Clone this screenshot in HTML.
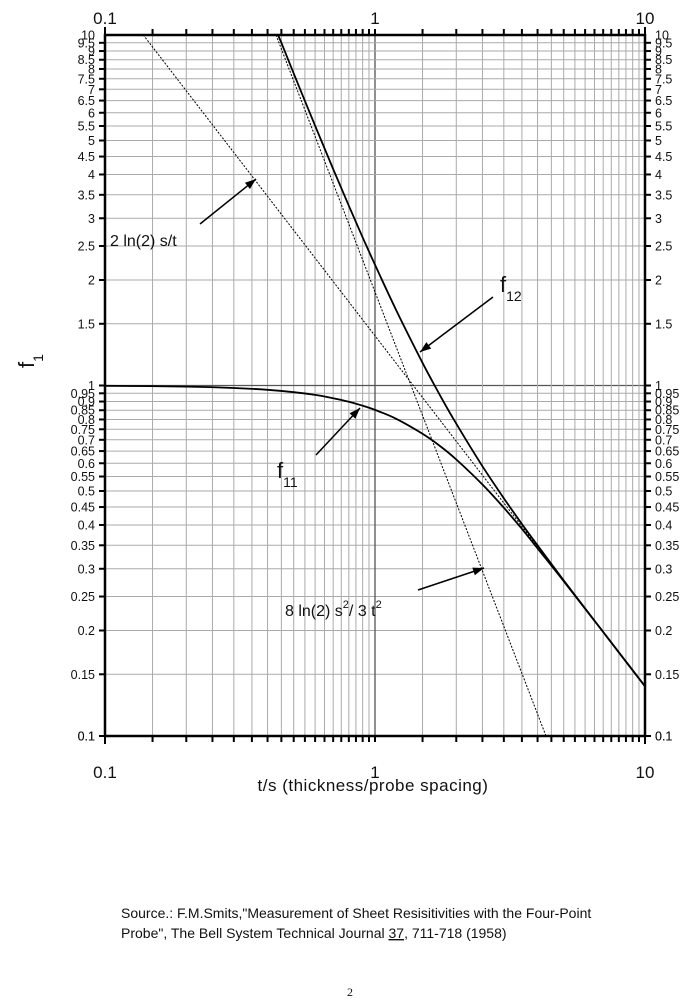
<!DOCTYPE html>
<html><head><meta charset="utf-8"><style>
html,body{margin:0;padding:0;background:#fff}
svg{display:block}
text{font-family:"Liberation Sans",Arial,sans-serif;fill:#111}
</style></head><body>
<svg id="chart" width="700" height="1008" viewBox="0 0 700 1008" xmlns="http://www.w3.org/2000/svg">
<g id="grid"></g>
<g id="curves"></g>
<g id="axes"></g>
<g id="ann">
  <text x="110" y="246" font-size="16">2 ln(2) s/t</text>
  <text x="500" y="292" font-size="22">f<tspan font-size="14" dy="9">12</tspan></text>
  <text x="277" y="478" font-size="22">f<tspan font-size="14" dy="9">11</tspan></text>
  <text x="285" y="616" font-size="16">8 ln(2) s<tspan font-size="11" dy="-8">2</tspan><tspan dy="8">/ 3 t</tspan><tspan font-size="11" dy="-8">2</tspan></text>
  <text transform="translate(34,368) rotate(-90)" font-size="22">f<tspan font-size="14" dy="9">1</tspan></text>
  <text x="373" y="791" font-size="17" text-anchor="middle" letter-spacing="0.5">t/s  (thickness/probe spacing)</text>
  <text x="121" y="918" font-size="14">Source.:   F.M.Smits,"Measurement of Sheet Resisitivities with the Four-Point</text>
  <text x="121" y="938" font-size="14">Probe", The Bell System Technical Journal <tspan text-decoration="underline">37</tspan>, 711-718 (1958)</text>
  <text x="350" y="996" font-size="12" text-anchor="middle" style="font-family:'Liberation Serif',serif">2</text>
</g>
</svg>
<script>
const xTickLabels = ["0.1","1","10"];
const xTickValues = [0.1,1,10];
const tF = [0.1,0.2,0.3,0.4,0.5,0.6,0.7,0.8,0.9,1,1.2,1.5,1.75,2,2.5,3,3.5,4,5,7,10];
const f11Values = [0.998,0.993,0.984,0.972,0.957,0.940,0.920,0.899,0.876,0.852,0.803,0.728,0.670,0.615,0.522,0.448,0.390,0.343,0.2765,0.198,0.1386];
const tF12 = [0.437,0.45,0.5,0.6,0.7,0.8,0.9,1,1.2,1.5,1.75,2,2.5,3,3.5,4,5,7,10];
const f12Values = [10,9.5,7.77,5.51,4.145,3.259,2.648,2.21,1.636,1.161,0.931,0.778,0.5885,0.4768,0.4027,0.3497,0.278,0.198,0.1386];
const tLin = [0.1386,4];
const linValues = [10,0.3466];
const tQuad = [0.43,1,2,4.3];
const quadValues = [10,1.848,0.462,0.1];

const NS="http://www.w3.org/2000/svg";
const L=105,R=645,T=35,B=736;
const X=t=>L+(R-L)/2*(Math.log10(t)+1);
const Y=v=>T+(B-T)/2*(1-Math.log10(v));
function el(tag,attrs,parent){const e=document.createElementNS(NS,tag);for(const k in attrs)e.setAttribute(k,attrs[k]);parent.appendChild(e);return e;}
const grid=document.getElementById('grid'),axes=document.getElementById('axes'),curves=document.getElementById('curves');
const minor=[];
for(let i=2;i<20;i++)minor.push(+(i*0.05).toFixed(2));
for(let i=2;i<20;i++)minor.push(+(i*0.5).toFixed(1));
minor.forEach(v=>{
  const strong=(v===1);
  const gx=el('line',{x1:X(v),x2:X(v),y1:T,y2:B,stroke:strong?'#555':'#aaa','stroke-width':strong?1.3:1},grid);
  
  
  const gy=el('line',{x1:L,x2:R,y1:Y(v),y2:Y(v),stroke:strong?'#555':'#aaa','stroke-width':strong?1.3:1},grid);
  
  
  [[X(v),B,X(v),B+6],[X(v),T,X(v),T-6],[L-6,Y(v),L,Y(v)],[R,Y(v),R+6,Y(v)]].forEach(c=>{
    const tk=el('line',{x1:c[0],y1:c[1],x2:c[2],y2:c[3],stroke:'#000','stroke-width':2},axes);
    
    
  });
});
[0.1,10].forEach(v=>{
  [[X(v),B,X(v),B+8],[X(v),T,X(v),T-8]].forEach(c=>{const tk=el('line',{x1:c[0],y1:c[1],x2:c[2],y2:c[3],stroke:'#000','stroke-width':2},axes);});
});
const frame=el('rect',{x:L,y:T,width:R-L,height:B-T,fill:'none',stroke:'#000','stroke-width':2.5},axes);


xTickValues.forEach((v,i)=>{
  const a=el('text',{x:X(v),y:778,'font-size':17,'text-anchor':'middle'},axes);a.textContent=xTickLabels[i];
  
  
  const b=el('text',{x:X(v),y:24,'font-size':17,'text-anchor':'middle'},axes);b.textContent=xTickLabels[i];
  
  
});
const yLabels=[0.1].concat(minor).concat([10]);
yLabels.forEach(v=>{
  const s=String(v);
  const a=el('text',{x:L-10,y:Y(v)+4.5,'font-size':12.5,'text-anchor':'end'},axes);a.textContent=s;
  
  
  const b=el('text',{x:R+10,y:Y(v)+4.5,'font-size':12.5},axes);b.textContent=s;
  
  
});
function path(ts,vs,attrs,name){
  const P=ts.map((t,i)=>[X(t),Y(vs[i])]);
  let d='M'+P[0][0].toFixed(1)+','+P[0][1].toFixed(1);
  for(let i=0;i<P.length-1;i++){
    const p0=P[Math.max(0,i-1)],p1=P[i],p2=P[i+1],p3=P[Math.min(P.length-1,i+2)];
    const c1=[p1[0]+(p2[0]-p0[0])/6,p1[1]+(p2[1]-p0[1])/6];
    const c2=[p2[0]-(p3[0]-p1[0])/6,p2[1]-(p3[1]-p1[1])/6];
    d+=' C'+c1.map(n=>n.toFixed(1)).join(',')+' '+c2.map(n=>n.toFixed(1)).join(',')+' '+p2.map(n=>n.toFixed(1)).join(',');
  }
  const p=el('path',Object.assign({d:d,fill:'none'},attrs),curves);
  
  
}
path(tLin,linValues,{stroke:'#000','stroke-width':1,'stroke-dasharray':'2,1.5'},'asymptote-2ln2-s-over-t');
path(tQuad,quadValues,{stroke:'#000','stroke-width':1,'stroke-dasharray':'2,1.5'},'asymptote-8ln2-s2-over-3t2');
path(tF,f11Values,{stroke:'#000','stroke-width':1.8},'curve-f11');
path(tF12,f12Values,{stroke:'#000','stroke-width':1.8},'curve-f12');
const ann=document.getElementById('ann');
[[200,224,256,179],[493,297,420,352],[316,455,360,408],[418,590,484,568]].forEach(c=>{
  const ln=el('line',{x1:c[0],y1:c[1],x2:c[2],y2:c[3],stroke:'#000','stroke-width':1.5},ann);
  
  
  const a=Math.atan2(c[3]-c[1],c[2]-c[0]),h=11,w=4;
  const bx=c[2]-h*Math.cos(a),by=c[3]-h*Math.sin(a);
  const pts=[[c[2],c[3]],[bx-w*Math.sin(a),by+w*Math.cos(a)],[bx+w*Math.sin(a),by-w*Math.cos(a)]].map(p=>p.join(',')).join(' ');
  const hd=el('polygon',{points:pts,fill:'#000'},ann);
  
  
});
</script>
</body></html>
